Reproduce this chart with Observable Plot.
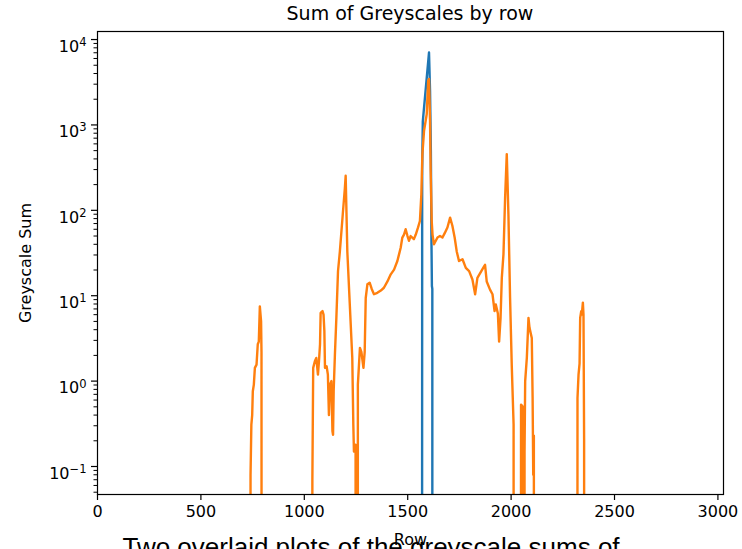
<!DOCTYPE html>
<html><head><meta charset="utf-8">
<script src="https://cdn.jsdelivr.net/npm/d3@7"></script>
<script src="https://cdn.jsdelivr.net/npm/@observablehq/plot@0.6"></script>
<style>
html,body{margin:0;padding:0;background:#fff;}
body{width:742px;height:549px;overflow:hidden;position:relative;font-family:"DejaVu Sans",sans-serif;color:#000;}
#title{box-sizing:border-box;height:24px;padding-top:2px;line-height:22px;font-size:19px;padding-left:97px;width:723px;text-align:center;white-space:nowrap;}
#chart svg{display:block;}
#caption{position:absolute;left:0;top:532px;width:742px;text-align:center;white-space:nowrap;font-family:"Liberation Sans",Arial,sans-serif;font-size:26px;line-height:30px;}
</style></head><body>
<div id="title">Sum of Greyscales by row</div>
<div id="chart"></div>
<div id="caption">Two overlaid plots of the greyscale sums of</div>
<script>
// Blue series (row, greyscale sum); 0 = no signal (drawn clipped below the axis as in log plotting)
const blueRow = [0, 1567, 1570, 1573, 1603, 1608, 1612, 1615, 1617, 1619, 1620, 3023];
const blueSum = [0, 0, 300, 1100, 7050, 2500, 500, 40, 13, 12, 0, 0];

// Orange series (row, greyscale sum)
const orangeRow = [0, 736, 740, 744, 748, 751, 756, 761, 769, 775, 780, 785, 791, 793, 796,
  1035, 1039, 1043, 1051, 1058, 1066, 1071, 1076, 1079, 1088, 1093, 1097, 1100, 1108, 1114, 1119, 1124, 1131, 1136, 1139, 1142, 1148, 1155, 1163, 1172, 1186, 1196, 1200, 1208, 1232, 1237, 1240, 1248, 1251,
  1257, 1259, 1269, 1276, 1286, 1292, 1297, 1305, 1316, 1326, 1337, 1353, 1370, 1385, 1402, 1418, 1434, 1450, 1458, 1466, 1474, 1482, 1490, 1499, 1506, 1514, 1530, 1539, 1550, 1559, 1566, 1571, 1579, 1592, 1599, 1603, 1608, 1611, 1616, 1620, 1627, 1644, 1656, 1668, 1679, 1692, 1705, 1716, 1727, 1737, 1748, 1765, 1781, 1797, 1813, 1826, 1837, 1856, 1870, 1874, 1882, 1898, 1910, 1920, 1926, 1936, 1942, 1949, 1955, 1963, 1971, 1979, 1987, 1995, 2003, 2012, 2016,
  2043, 2048, 2057, 2060, 2065, 2068, 2076, 2084, 2089, 2100, 2104, 2107, 2110, 2114,
  2318, 2321, 2326, 2331, 2334, 2339, 2342, 2347, 2350, 2353, 2356, 3023];
const orangeSum = [0, 0, 0.08, 0.31, 0.40, 0.76, 0.91, 1.43, 1.56, 2.7, 2.9, 7.5, 5.0, 2.2, 0,
  0, 0.07, 1.43, 1.71, 1.87, 1.19, 1.71, 2.7, 6.3, 6.6, 6.0, 3.85, 1.43, 1.49, 1.19, 0.40, 0.91, 1.0, 0.26, 0.235, 0.76, 2.05, 5.5, 19.4, 33, 90, 180, 254, 33, 1.87, 0.31, 0.15, 0.18, 0,
  0, 0.91, 2.45, 2.2, 1.43, 2.2, 9.4, 13.6, 14.2, 12, 10.4, 10.8, 11.5, 12.4, 14.7, 17.8, 20.2, 25.5, 30.5, 36.5, 48, 52, 60, 50, 44, 50, 46, 52, 63, 75, 155, 455, 855, 1340, 3300, 3460, 1120, 290, 75, 52, 40, 48, 50, 48, 54, 63, 82, 66, 48, 33, 25.5, 26.7, 21.2, 19.4, 15.5, 10.4, 16.2, 19.4, 22.2, 23, 14.7, 11.8, 10.4, 6.6, 7.9, 6.2, 2.9, 5.5, 16.2, 30.5, 141, 455, 90, 9.4, 1.56, 0.31, 0,
  0, 0.53, 0.5, 0, 0.15, 1.0, 1.87, 5.5, 4.2, 3.2, 0.63, 0.08, 0.23, 0,
  0, 0.63, 1.19, 1.6, 5.5, 6.6, 6.0, 8.3, 6.0, 0.21, 0, 0];

const xTicks = [0, 500, 1000, 1500, 2000, 2500, 3000];
const yTicks = [0.1, 1, 10, 100, 1000, 10000];
const yMinorTicks = [0.05, 0.06, 0.07, 0.08, 0.09, 0.2, 0.3, 0.4, 0.5, 0.6, 0.7, 0.8, 0.9,
  2, 3, 4, 5, 6, 7, 8, 9, 20, 30, 40, 50, 60, 70, 80, 90, 200, 300, 400, 500, 600, 700, 800, 900,
  2000, 3000, 4000, 5000, 6000, 7000, 8000, 9000];
const yExponent = {"0.1": "−1", "1": "0", "10": "1", "100": "2", "1000": "3", "10000": "4"};

const FLOOR = 1e-30; // non-positive values are clipped far below the log axis
const blue = blueRow.map((r, i) => ({row: r, sum: blueSum[i]}));
const orange = orangeRow.map((r, i) => ({row: r, sum: orangeSum[i]}));
const yv = d => Math.max(d.sum, FLOOR);

const chart = Plot.plot({
  width: 742,
  height: 525,
  marginLeft: 97,
  marginRight: 19,
  marginTop: 7,
  marginBottom: 55,
  style: {fontFamily: "'DejaVu Sans', sans-serif", fontSize: "16px", color: "#000", background: "#fff", overflow: "visible"},
  x: {domain: [0, 3027]},
  y: {type: "log", domain: [0.047, 12420]},
  marks: [
    Plot.line(blue, {x: "row", y: yv, stroke: "#1f77b4", strokeWidth: 2.4, clip: true}),
    Plot.line(orange, {x: "row", y: yv, stroke: "#ff7f0e", strokeWidth: 2.4, clip: true}),
    Plot.axisX({ticks: xTicks, tickSize: 6, tickPadding: 5, strokeWidth: 1.2, tickFormat: d => String(d),
      label: "Row", labelAnchor: "center", labelArrow: "none", labelOffset: 50}),
    Plot.axisY({ticks: yTicks, tickSize: 6, tickPadding: 5, strokeWidth: 1.2, tickFormat: d => "10^" + yExponent[String(d)],
      label: "Greyscale Sum", labelAnchor: "center", labelArrow: "none", labelOffset: 78}),
    Plot.axisY({ticks: yMinorTicks, tickSize: 3.5, strokeWidth: 1, tickFormat: () => "", label: null}),
    Plot.frame({stroke: "#000", strokeWidth: 1.2})
  ]
});

const svgNS = "http://www.w3.org/2000/svg";
chart.querySelectorAll('g[aria-label="y-axis tick label"] text').forEach(t => {
  const parts = t.textContent.split("^");
  if (parts.length !== 2) return;
  t.textContent = "";
  t.setAttribute("dy", "0.45em");
  t.appendChild(document.createTextNode(parts[0]));
  const sup = document.createElementNS(svgNS, "tspan");
  sup.setAttribute("dy", "-0.5em");
  sup.setAttribute("font-size", "0.72em");
  sup.textContent = parts[1];
  t.appendChild(sup);
});

document.getElementById("chart").appendChild(chart);
</script>
</body></html>
